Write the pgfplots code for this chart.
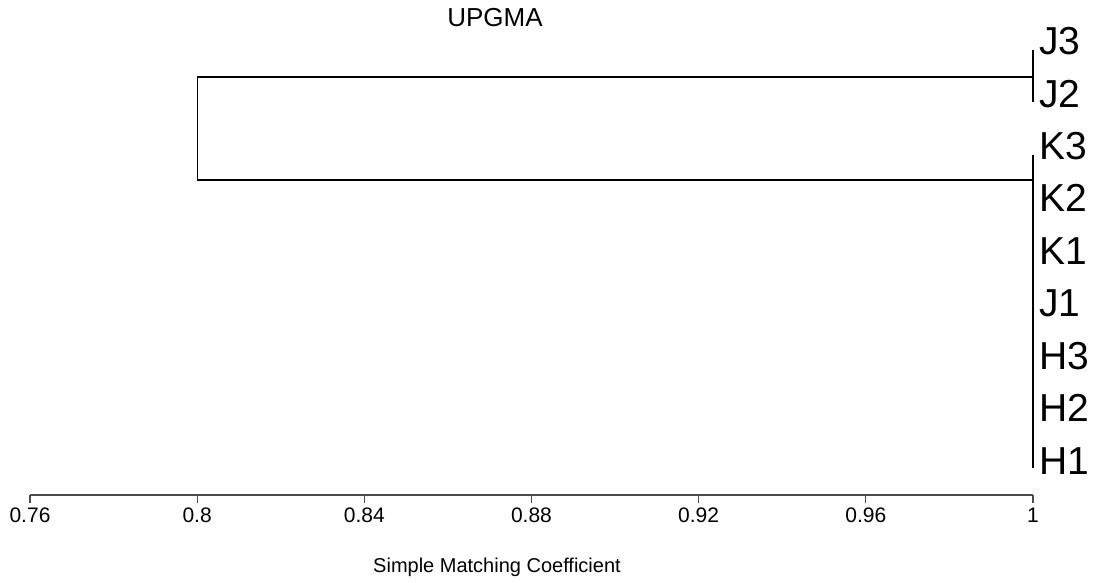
\documentclass[border=0pt]{standalone}
\usepackage{fontspec}
\setmainfont{Liberation Sans}
\usepackage{pgfplots}
\pgfplotsset{compat=1.18}
\tikzset{leaf/.style={anchor=base west, inner sep=0pt, xshift=6pt, font=\fontsize{39}{42}\selectfont}}
\begin{document}
\begin{tikzpicture}
\useasboundingbox (0pt,0pt) rectangle (1096pt,582pt);
\begin{axis}[
  at={(30pt,87pt)}, anchor=south west,
  scale only axis, width=1003pt, height=495pt,
  xmin=0.76, xmax=1, ymin=0, ymax=495,
  axis x line=bottom, axis y line=none,
  x axis line style={-, draw=black!70, line width=1.2pt},
  xtick={0.76,0.8,0.84,0.88,0.92,0.96,1},
  xticklabels={0.76,0.8,0.84,0.88,0.92,0.96,1},
  /pgf/number format/assume math mode=true,
  tick align=outside, major tick length=8pt,
  xtick style={draw=black!70, line width=1.2pt},
  xticklabel style={font=\fontsize{21}{23}\selectfont, anchor=north, inner sep=0pt, yshift=-5pt},
  clip=false,
]
\addplot[black, line width=1.1pt] coordinates {(1,445) (1,393)};
\addplot[black, line width=1.1pt] coordinates {(1,340) (1,27)};
\addplot[black, line width=1.1pt] coordinates {(1,418) (0.8,418) (0.8,315) (1,315)};
\node[leaf] at (axis cs:1,21) {H1};
\node[leaf] at (axis cs:1,73.4) {H2};
\node[leaf] at (axis cs:1,125.8) {H3};
\node[leaf] at (axis cs:1,178.2) {J1};
\node[leaf] at (axis cs:1,230.6) {K1};
\node[leaf] at (axis cs:1,283) {K2};
\node[leaf] at (axis cs:1,335.4) {K3};
\node[leaf] at (axis cs:1,387.8) {J2};
\node[leaf] at (axis cs:1,440.2) {J3};
\end{axis}
\node[anchor=base, inner sep=0pt, font=\fontsize{26}{28}\selectfont] at (495pt,555pt) {UPGMA};
\node[anchor=base, inner sep=0pt, font=\fontsize{20}{22}\selectfont] at (497pt,10pt) {Simple Matching Coefficient};
\end{tikzpicture}
\end{document}
